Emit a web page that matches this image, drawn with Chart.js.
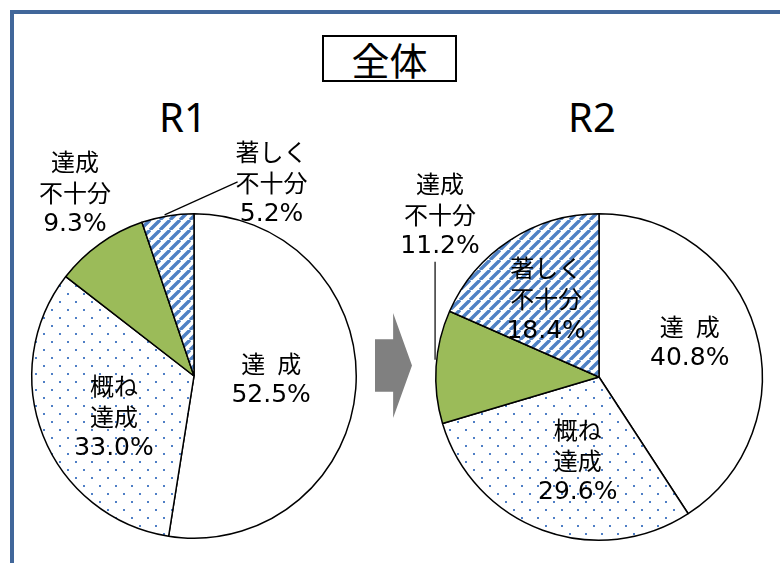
<!DOCTYPE html>
<html>
<head>
<meta charset="utf-8">
<script src="https://cdn.jsdelivr.net/npm/chart.js@4/dist/chart.umd.min.js"></script>
<style>
    body { margin: 0; background: #fff; overflow: hidden; }
    #wrap { position: relative; width: 780px; height: 563px; overflow: hidden; font-family: "Noto Sans CJK JP", "Noto Sans", sans-serif; }
    #frame { position: absolute; left: 10px; top: 10px; width: 800px; height: 600px; border: 4px solid #41679a; }
    #title { position: absolute; left: 322px; top: 35px; width: 131px; height: 43px; border: 2px solid #000;
             font-size: 38px; line-height: 43px; text-align: center; color: #000; }
    .year { position: absolute; top: 92px; width: 120px; text-align: center; font-family: "Noto Sans", sans-serif;
            font-size: 40px; line-height: 50px; color: #000; }
    canvas { position: absolute; top: 130px; }
    #arrow { position: absolute; left: 375px; top: 313px; width: 37px; height: 105px; background: #808080; z-index: 2;
             clip-path: polygon(0 25%, 49% 25%, 49% 0, 100% 50%, 49% 100%, 49% 75%, 0 75%); }
</style>
</head>
<body>
<div id="wrap">
    <div id="frame"></div>
    <div id="title">全体</div>
    <div class="year" style="left:123px">R1</div>
    <div class="year" style="left:532px">R2</div>
    <canvas id="chartR1" width="390" height="433" style="left:0"></canvas>
    <canvas id="chartR2" width="390" height="433" style="left:390px"></canvas>
    <div id="arrow"></div>
</div>
<script>
const categories = ['達成', '概ね達成', '達成不十分', '著しく不十分'];
const labelLines = [['達\u2002成'], ['概ね', '達成'], ['達成', '不十分'], ['著しく', '不十分']];
const r1Values = [52.5, 33.0, 9.3, 5.2];
const r2Values = [40.8, 29.6, 11.2, 18.4];

// label placement: r = fraction of radius along the slice middle, dx/dy nudge, optional leader line
const r1Layout = [
    { r: 0.477, dx: 0, dy: -3 },
    { r: 0.53, dx: 0, dy: 9 },
    { r: 1.35, dx: 8, dy: -5 },
    { r: 1, dx: 104, dy: -33, line: [[-3, -1], [70, -34]] }
];
const r2Layout = [
    { r: 0.58, dx: 0, dy: -8 },
    { r: 0.52, dx: 8, dy: 4 },
    { r: 1, dx: 4, dy: -152, line: [[-1, -7], [-1, -105]] },
    { r: 0.57, dx: -2, dy: 0 }
];

function makeDots() {
    const c = document.createElement('canvas');
    c.width = 16; c.height = 16;
    const ctx = c.getContext('2d');
    ctx.fillStyle = '#fff';
    ctx.fillRect(0, 0, 16, 16);
    ctx.fillStyle = '#4f7fc6';
    ctx.fillRect(3, 3, 2, 2);
    ctx.fillRect(11, 11, 2, 2);
    return ctx.createPattern(c, 'repeat');
}

function makeStripes() {
    const s = 10;
    const c = document.createElement('canvas');
    c.width = s; c.height = s;
    const ctx = c.getContext('2d');
    ctx.fillStyle = '#fff';
    ctx.fillRect(0, 0, s, s);
    ctx.strokeStyle = '#4f81c4';
    ctx.lineWidth = 3.4;
    ctx.beginPath();
    for (let k = -1; k <= 1; k++) {
        ctx.moveTo(k * s, s);
        ctx.lineTo(k * s + s, 0);
    }
    ctx.stroke();
    return ctx.createPattern(c, 'repeat');
}

const sliceLabels = {
    id: 'sliceLabels',
    afterDatasetsDraw(chart, args, opts) {
        const ctx = chart.ctx;
        const meta = chart.getDatasetMeta(0);
        const values = chart.data.datasets[0].data;
        ctx.save();
        ctx.fillStyle = '#000';
        ctx.strokeStyle = '#000';
        ctx.textAlign = 'center';
        ctx.textBaseline = 'middle';
        meta.data.forEach((arc, i) => {
            const p = arc.getProps(['x', 'y', 'startAngle', 'endAngle', 'outerRadius'], true);
            const mid = (p.startAngle + p.endAngle) / 2;
            const L = opts.layout[i];
            const ex = p.x + Math.cos(mid) * p.outerRadius;
            const ey = p.y + Math.sin(mid) * p.outerRadius;
            const cx = p.x + Math.cos(mid) * p.outerRadius * L.r + L.dx;
            const cy = p.y + Math.sin(mid) * p.outerRadius * L.r + L.dy;
            if (L.line) {
                ctx.lineWidth = 1.2;
                ctx.beginPath();
                ctx.moveTo(ex + L.line[0][0], ey + L.line[0][1]);
                ctx.lineTo(ex + L.line[1][0], ey + L.line[1][1]);
                ctx.stroke();
            }
            const lines = labelLines[i].concat(values[i].toFixed(1) + '%');
            const lh = 31;
            const top = cy - (lines.length - 1) * lh / 2;
            lines.forEach((t, k) => {
                const isPct = k === lines.length - 1;
                ctx.font = isPct ? '25px "DejaVu Sans", sans-serif' : '24px "Noto Sans CJK JP", sans-serif';
                ctx.fillText(t, cx, top + k * lh + (isPct ? 1 : 0));
            });
        });
        ctx.restore();
    }
};

function drawPie(id, values, layout, padding) {
    const fills = ['#ffffff', makeDots(), '#9bbb59', makeStripes()];
    return new Chart(document.getElementById(id), {
        type: 'pie',
        data: {
            labels: categories,
            datasets: [{
                data: values,
                backgroundColor: fills,
                borderColor: '#000',
                borderWidth: 1.5,
                hoverOffset: 0
            }]
        },
        options: {
            responsive: false,
            animation: false,
            layout: { padding: padding },
            events: [],
            plugins: {
                legend: { display: false },
                tooltip: { enabled: false },
                sliceLabels: { layout: layout }
            }
        },
        plugins: [sliceLabels]
    });
}

drawPie('chartR1', r1Values, r1Layout, { left: 31, top: 83, right: 33, bottom: 24 });
drawPie('chartR2', r2Values, r2Layout, { left: 45, top: 83, right: 17, bottom: 22 });
</script>
</body>
</html>
